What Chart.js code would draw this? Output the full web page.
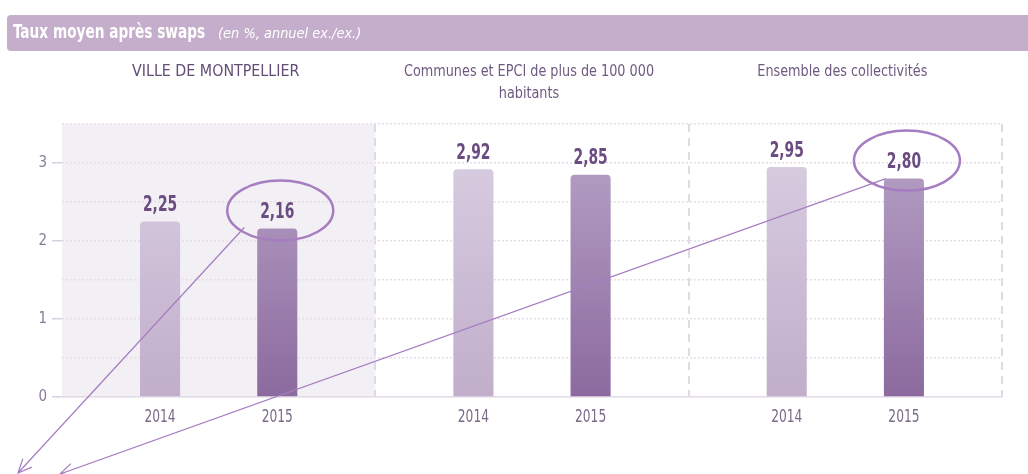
<!DOCTYPE html>
<html>
<head>
<meta charset="utf-8">
<script src="https://cdn.jsdelivr.net/npm/chart.js@4.4.1/dist/chart.umd.min.js"></script>
<style>
  body { margin: 0; background: #fff; }
</style>
</head>
<body>
<canvas id="swapChart" width="1028" height="474"></canvas>
<script>
// data
const groupTitles = [
  ["VILLE DE MONTPELLIER"],
  ["Communes et EPCI de plus de 100 000", "habitants"],
  ["Ensemble des collectivités"]
];
const years = ["2014", "2015"];
const rates2014 = [2.25, 2.92, 2.95];
const rates2015 = [2.16, 2.85, 2.80];
const circled2015 = [0, 2];
const yMax = 3.5;
const yStep = 0.5;

const NARROW = '"Liberation Sans Narrow", "DejaVu Sans Condensed", sans-serif';
const PURPLE_LINE = "#a57dc0";

// arrow start points are taken on each ellipse, tips go to the bottom left
const arrowTips = [[18, 473], [60, 474]];
const arrowStarts = [[-36, 17], [-21, 18]];

function gradientFill(top, bottom) {
  return function (c) {
    const area = c.chart.chartArea;
    if (!area) return top;
    const g = c.chart.ctx.createLinearGradient(0, area.top, 0, area.bottom);
    g.addColorStop(0, top);
    g.addColorStop(1, bottom);
    return g;
  };
}

function fmt(v) {
  return v.toFixed(2).replace(".", ",");
}

// squeeze text horizontally, the original uses a narrow font
function squeezeText(ctx, text, x, y, sx) {
  ctx.save();
  ctx.translate(x, y);
  ctx.scale(sx, 1);
  ctx.fillText(text, 0, 0);
  ctx.restore();
}

function drawArrow(ctx, x1, y1, x2, y2) {
  const ang = Math.atan2(y2 - y1, x2 - x1);
  const len = 15;
  ctx.beginPath();
  ctx.moveTo(x1, y1);
  ctx.lineTo(x2, y2);
  ctx.moveTo(x2 - len * Math.cos(ang - 0.42), y2 - len * Math.sin(ang - 0.42));
  ctx.lineTo(x2, y2);
  ctx.lineTo(x2 - len * Math.cos(ang + 0.42), y2 - len * Math.sin(ang + 0.42));
  ctx.stroke();
}

const decor = {
  id: "decor",
  beforeDraw(chart) {
    const { ctx, chartArea: a } = chart;
    const x = chart.scales.x;
    ctx.save();

    // header band
    ctx.fillStyle = "#c4aecb";
    ctx.beginPath();
    ctx.roundRect(7, 15, 1040, 36, 4);
    ctx.fill();
    ctx.fillStyle = "#ffffff";
    ctx.textBaseline = "middle";
    ctx.textAlign = "left";
    ctx.font = "bold 19px " + NARROW;
    squeezeText(ctx, "Taux moyen après swaps", 13, 33, 0.8);
    ctx.font = "italic 14px " + NARROW;
    squeezeText(ctx, "(en %, annuel ex./ex.)", 218, 34, 1.03);

    // shaded first group
    const half = (x.getPixelForValue(1) - x.getPixelForValue(0)) / 2;
    ctx.fillStyle = "#f2eff5";
    ctx.fillRect(a.left, a.top, x.getPixelForValue(0) + half - a.left, a.bottom - a.top);

    // group titles
    ctx.textAlign = "center";
    groupTitles.forEach((lines, i) => {
      lines.forEach((line, j) => {
        const upper = line === line.toUpperCase();
        ctx.fillStyle = upper ? "#634c76" : "#6e5a80";
        ctx.font = (upper ? "16px " : "15px ") + NARROW;
        squeezeText(ctx, line, x.getPixelForValue(i) - 3, 72 + j * 22, upper ? 0.99 : 0.95);
      });
    });
    ctx.restore();
  },
  afterDatasetsDraw(chart) {
    const { ctx, chartArea: a } = chart;
    ctx.save();
    ctx.textAlign = "center";
    ctx.textBaseline = "middle";

    chart.data.datasets.forEach((ds, d) => {
      const meta = chart.getDatasetMeta(d);
      meta.data.forEach((bar, i) => {
        ctx.fillStyle = "#6b4c80";
        ctx.font = "bold 22px " + NARROW;
        squeezeText(ctx, fmt(ds.data[i]), bar.x, bar.y - 16, 0.7);
        ctx.fillStyle = "#7a6a8a";
        ctx.font = "17px " + NARROW;
        squeezeText(ctx, years[d], bar.x, a.bottom + 21, 0.8);
      });
    });

    // circled 2015 values with arrows
    const meta15 = chart.getDatasetMeta(1);
    ctx.strokeStyle = PURPLE_LINE;
    circled2015.forEach((idx, k) => {
      const bar = meta15.data[idx];
      const cx = bar.x + 3;
      const cy = bar.y - 18;
      ctx.lineWidth = 2.5;
      ctx.beginPath();
      ctx.ellipse(cx, cy, 53, 30, 0, 0, Math.PI * 2);
      ctx.stroke();
      ctx.lineWidth = 1.2;
      drawArrow(ctx, cx + arrowStarts[k][0], cy + arrowStarts[k][1], arrowTips[k][0], arrowTips[k][1]);
    });
    ctx.restore();
  }
};

new Chart(document.getElementById("swapChart"), {
  type: "bar",
  data: {
    labels: groupTitles.map((t) => t.join(" ")),
    datasets: [
      {
        label: years[0],
        data: rates2014,
        backgroundColor: gradientFill("#dbd0e3", "#c0aecb"),
        borderRadius: 4,
        categoryPercentage: 0.748,
        barPercentage: 0.342
      },
      {
        label: years[1],
        data: rates2015,
        backgroundColor: gradientFill("#b9a6c8", "#8c6a9f"),
        borderRadius: 4,
        categoryPercentage: 0.748,
        barPercentage: 0.342
      }
    ]
  },
  options: {
    responsive: false,
    animation: false,
    layout: { padding: { top: 124, right: 26, bottom: 0, left: 0 } },
    plugins: {
      legend: { display: false },
      tooltip: { enabled: false }
    },
    scales: {
      x: {
        afterFit: (s) => { s.height = 77; },
        ticks: { display: false },
        grid: {
          offset: true,
          drawTicks: false,
          lineWidth: 2,
          color: (c) => (c.index === 0 ? "rgba(0,0,0,0)" : "#dfdae4")
        },
        border: { display: true, color: "#e3dbe8", width: 1.5, dash: [8, 6] }
      },
      y: {
        min: 0,
        max: yMax,
        afterFit: (s) => { s.width = 62; },
        ticks: {
          stepSize: yStep,
          padding: 5,
          color: "#8a7a9a",
          font: { family: NARROW, size: 15 },
          callback: (v) => (v % 1 === 0 ? v : "")
        },
        grid: {
          lineWidth: 1.5,
          color: "#e6dfea",
          tickLength: 10,
          tickBorderDash: [],
          tickColor: (c) => (c.tick && c.tick.value % 1 === 0 ? "#d9cfe0" : "rgba(0,0,0,0)")
        },
        border: { display: false, dash: [2, 2] }
      }
    }
  },
  plugins: [decor]
});
</script>
</body>
</html>
